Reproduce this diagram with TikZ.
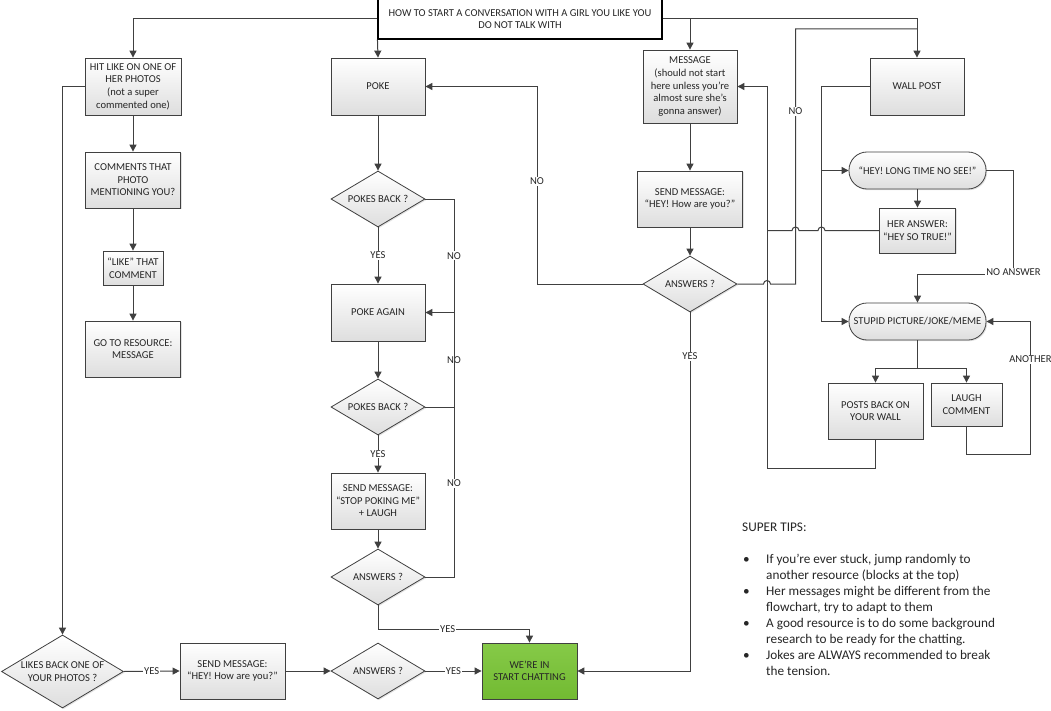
\documentclass[tikz,border=0pt]{standalone}
\usepackage{fontspec}
\setmainfont{Carlito}
\usetikzlibrary{shapes.geometric,arrows.meta,shadows,calc}
\definecolor{lc}{HTML}{404040}
\definecolor{tc}{HTML}{262626}
\definecolor{grtop}{RGB}{134,202,72}
\definecolor{grbot}{RGB}{114,186,50}
\newcommand{\boxfont}{\fontsize{10.6}{12.6}\selectfont}
\newcommand{\tipfont}{\fontsize{13.3}{16.1}\selectfont}
\begin{document}
\begin{tikzpicture}[x=1bp,y=-1bp,
  every node/.style={text=tc, font=\boxfont},
  nbox/.style={draw=lc, line width=0.8bp, top color=white, bottom color=black!13,
     drop shadow={shadow xshift=1.2bp, shadow yshift=-1.2bp, opacity=0.22},
     align=center, inner sep=1bp},
  pbox/.style 2 args={nbox, rectangle, minimum width=#1, minimum height=#2},
  dec/.style 2 args={nbox, diamond, aspect=1.7, inner sep=0pt, minimum width=#1, minimum height=#2},
  term/.style 2 args={nbox, rectangle, rounded corners=18bp, minimum width=#1, minimum height=#2},
  titlebox/.style={draw=black, line width=1.1bp, fill=white, align=center, minimum width=284bp, minimum height=40bp, inner sep=0pt},
  ln/.style={draw=lc, line width=1bp},
  arr/.style={ln, -{Triangle[length=7bp,width=7bp]}},
  lbl/.style={fill=white, inner sep=1bp, text=tc, font=\boxfont}
]
\fill[white] (0,0) rectangle (1051,711);
\useasboundingbox (0,0) rectangle (1051,711);

% ---------- nodes ----------
\node[titlebox] (title) at (520,19) {HOW TO START A CONVERSATION WITH A GIRL YOU LIKE YOU\\DO NOT TALK WITH};

\node[pbox={96bp}{57bp}] (hit) at (133,86.5) {HIT LIKE ON ONE OF\\HER PHOTOS\\(not a super\\commented one)};
\node[pbox={95bp}{56bp}] (comm) at (133,180) {COMMENTS THAT\\PHOTO\\MENTIONING YOU?};
\node[pbox={60bp}{34bp}] (likec) at (133,268) {“LIKE” THAT\\COMMENT};
\node[pbox={95bp}{56bp}] (goto) at (133,349) {GO TO RESOURCE:\\MESSAGE};

\node[pbox={94bp}{57bp}] (poke) at (378,86.5) {POKE};
\node[dec={94bp}{56bp}] (pb1) at (378,199) {POKES BACK ?};
\node[pbox={94bp}{57bp}] (pagain) at (378,312.5) {POKE AGAIN};
\node[dec={94bp}{56bp}] (pb2) at (378,407) {POKES BACK ?};
\node[pbox={94bp}{56bp}] (stop) at (378,501) {SEND MESSAGE:\\“STOP POKING ME”\\+ LAUGH};
\node[dec={94bp}{56bp}] (ans1) at (378,577) {ANSWERS ?};

\node[pbox={95bp}{56bp}, top color=grtop, bottom color=grbot] (wein) at (529.5,671) {WE’RE IN\\START CHATTING};
\node[dec={122bp}{73bp}] (likes) at (62.5,671.5) {LIKES BACK ONE OF\\YOUR PHOTOS ?};
\node[pbox={105bp}{56bp}] (sendb) at (232.5,671) {SEND MESSAGE:\\“HEY! How are you?”};
\node[dec={94bp}{56bp}] (ans2) at (378,671) {ANSWERS ?};

\node[pbox={94bp}{73bp}] (msg) at (690,86.5) {MESSAGE\\(should not start\\here unless you’re\\almost sure she’s\\gonna answer)};
\node[pbox={105bp}{56bp}] (sendm) at (690,199) {SEND MESSAGE:\\“HEY! How are you?”};
\node[dec={94bp}{56bp}] (ans3) at (690,284) {ANSWERS ?};

\node[pbox={94bp}{57bp}] (wall) at (917,86.5) {WALL POST};
\node[term={137bp}{37bp}] (hey) at (917.5,170.5) {“HEY! LONG TIME NO SEE!”};
\node[pbox={76bp}{45bp}] (her) at (917.5,230.5) {HER ANSWER:\\“HEY SO TRUE!”};
\node[term={137bp}{37bp}] (stupid) at (917.5,321.5) {STUPID PICTURE/JOKE/MEME};
\node[pbox={95bp}{56bp}] (posts) at (875.5,411) {POSTS BACK ON\\YOUR WALL};
\node[pbox={71bp}{43bp}] (laugh) at (966.5,404.5) {LAUGH\\COMMENT};

% ---------- connectors ----------
\draw[arr] (title.west) -| (hit.north);
\draw[arr] (title.south west) -- (poke.north);
\draw[arr] (title.east) -| (wall.north);
\draw[arr] (title.east -| msg.north) -- (msg.north);

\draw[arr] (hit.south) -- (comm.north);
\draw[arr] (comm.south) -- (likec.north);
\draw[arr] (likec.south) -- (goto.north);
\draw[arr] (hit.west) -| (likes.north);

\draw[arr] (poke.south) -- (pb1.north);
\draw[arr] (pb1.south) -- node[lbl]{YES} (pagain.north);
\draw[arr] (pagain.south) -- (pb2.north);
\draw[arr] (pb2.south) -- node[lbl]{YES} (stop.north);
\draw[arr] (stop.south) -- (ans1.north);
\draw[arr] (ans1.south) -- ++(0,24) -| node[lbl,pos=0.23]{YES} (wein.north);

\coordinate (nj) at (454,312.5);
\draw[ln] (pb1.east) -- (pb1.east -| nj) -- node[lbl]{NO} (nj);
\draw[ln] (pb2.east) -- (pb2.east -| nj) -- node[lbl]{NO} (nj);
\draw[ln] (ans1.east) -- (ans1.east -| nj) -- node[lbl,pos=0.355]{NO} (nj);
\draw[arr] (nj) -- (pagain.east);

\draw[arr] (likes.east) -- node[lbl]{YES} (sendb.west);
\draw[arr] (sendb.east) -- (ans2.west);
\draw[arr] (ans2.east) -- node[lbl]{YES} (wein.west);

\draw[arr] (msg.south) -- (sendm.north);
\draw[arr] (sendm.south) -- (ans3.north);
\coordinate (c1) at (537,86.5);
\draw[arr] (ans3.west) -| node[lbl,pos=0.76]{NO} (c1) -- (poke.east);
\draw[arr] (ans3.south) |- node[lbl,pos=0.061]{YES} (wein.east);

% NO path from message ANSWERS? to WALL POST (hop over x=767)
\draw[ln] (ans3.east) -- (763.5,284) arc[start angle=180,end angle=360,radius=3.5]
   -- (795.5,284) -- node[lbl,pos=0.678]{NO} (795.5,29) -- (wall.north |- 0,29);

% wall post branches
\coordinate (vx) at (821.5,0);
\draw[arr] (wall.west) -| (vx |- stupid.west) -- (stupid.west);
\draw[arr] (vx |- hey.west) -- (hey.west);
\draw[arr] (hey.south) -- (her.north);
\draw[ln] (her.west) -- (825,230.5) arc[start angle=0,end angle=-180,radius=3.5]
   -- (799,230.5) arc[start angle=0,end angle=-180,radius=3.5] -- (767,230.5);
\draw[arr] (posts.south) -- ++(0,29) -| (767,86.5) -- (msg.east);

\draw[arr] (hey.east) -| (1013.5,274) node[lbl,yshift=2bp]{NO ANSWER} -| (stupid.north);
\draw[arr] (stupid.south) -- ++(0,28) -| (posts.north);
\draw[arr] (stupid.south) -- ++(0,28) -| (laugh.north);
\draw[arr] (laugh.south) -- ++(0,28) -| node[lbl,pos=0.858]{ANOTHER} ([xshift=44bp]stupid.east) -- (stupid.east);

% ---------- tips ----------
\node[anchor=base west, inner sep=0pt, font=\tipfont, align=left] (tips) at (742,531) {%
\begin{tabular}[t]{@{\hspace{1bp}}p{23bp}@{}l@{}}
\multicolumn{2}{@{}l@{}}{SUPER TIPS:}\\
 & \\
\textbullet & If you’re ever stuck, jump randomly to\\
 & another resource (blocks at the top)\\
\textbullet & Her messages might be different from the\\
 & flowchart, try to adapt to them\\
\textbullet & A good resource is to do some background\\
 & research to be ready for the chatting.\\
\textbullet & Jokes are ALWAYS recommended to break\\
 & the tension.
\end{tabular}};
\end{tikzpicture}
\end{document}
